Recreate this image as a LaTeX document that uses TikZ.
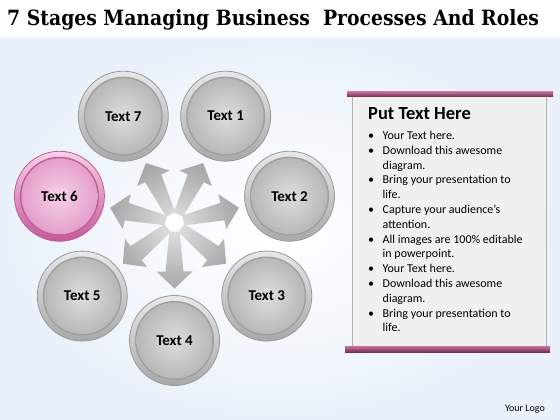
\documentclass[tikz,border=0pt]{standalone}
\usepackage{fontspec}
\setmainfont{Carlito}
\newfontfamily\titlefont{DejaVu Serif}
\usetikzlibrary{calc}

\definecolor{bgblue}{RGB}{234,241,250}
\definecolor{barhi}{RGB}{196,116,158}
\definecolor{barlo}{RGB}{118,48,88}
\definecolor{panelbg}{RGB}{240,240,240}
\definecolor{pinklt}{RGB}{246,210,232}
\definecolor{pinkmd}{RGB}{228,158,202}
\definecolor{pinkdk}{RGB}{196,90,152}

\newcommand\lbul{\makebox[14.5pt][l]{\textbullet}}
\newcommand\lind{\hspace*{14.5pt}}

\tikzset{
  btn/.style={circle, minimum size=90pt, inner sep=0pt, line width=0.8pt,
    font=\bfseries\fontsize{15}{17}\selectfont},
  btn gray/.style={btn, draw=gray!80, top color=gray!18, bottom color=gray!68,
    path picture={
      \fill[gray!75] (path picture bounding box.center) circle (39.5pt);
      \shade[inner color=gray!26, outer color=gray!56] (path picture bounding box.center) circle (38pt);}},
  btn pink/.style={btn, draw=pinkdk, top color=pinklt, bottom color=pinkdk,
    path picture={
      \fill[pinkdk] (path picture bounding box.center) circle (39.5pt);
      \shade[inner color=pinklt, outer color=pinkmd] (path picture bounding box.center) circle (38pt);}},
  bar/.style={top color=barhi, bottom color=barlo}
}

\begin{document}
\begin{tikzpicture}[x=1pt, y=-1pt]
  \useasboundingbox (0,0) rectangle (560,420);
  % background
  \fill[white] (0,0) rectangle (560,420);
  \shade[inner color=white, outer color=bgblue] (0,38) rectangle (560,420);

  \node[anchor=base west, inner sep=0pt, font=\titlefont\bfseries\fontsize{21}{24}\selectfont] (title) at (7,26)
    {\scalebox{0.895}[1]{7 Stages Managing Business\ \ Processes And Roles}};

  % arrows in the middle
  \coordinate (star) at (174.5,222.5);
  \shade[inner color=gray!22, outer color=gray!68]
    \foreach \k [evaluate=\k as \a using -64.3+(\k-1)*51.43] in {1,...,7} {
      ($(star)+(\a:9)+(\a+90:5)$) -- ($(star)+(\a:49)+(\a+90:9)$)
      -- ($(star)+(\a:49)+(\a+90:18)$) -- ($(star)+(\a:66)$)
      -- ($(star)+(\a:49)+(\a-90:18)$) -- ($(star)+(\a:49)+(\a-90:9)$)
      -- ($(star)+(\a:9)+(\a-90:5)$) -- cycle
    };
  \fill[white] (star) circle (8.5);

  % the seven buttons
  \foreach \k/\kind [evaluate=\k as \a using -64.3+(\k-1)*51.43]
      in {1/gray,2/gray,3/gray,4/gray,5/gray,6/pink,7/gray}
    \node[btn \kind] (t\k) at ($(star)+(\a:118)$) {Text \k};

  % text panel
  \fill[panelbg, draw=gray!60, line width=1pt] (352,95) rectangle (546,348);
  \shade[bar] (347,91.5) rectangle (553,96.5);
  \shade[bar] (345,346) rectangle (550,352);
  \node[anchor=base west, inner sep=0pt, font=\bfseries\fontsize{18.5}{20}\selectfont] (head) at (368,119) {Put Text Here};
  \node[anchor=north west, inner sep=0pt, align=left, font=\fontsize{12}{14.8}\selectfont] (list) at (368,131) {
    \lbul Your Text here.\\
    \lbul Download this awesome\\
    \lind diagram.\\
    \lbul Bring your presentation to\\
    \lind life.\\
    \lbul Capture your audience’s\\
    \lind attention.\\
    \lbul All images are 100\% editable\\
    \lind in powerpoint.\\
    \lbul Your Text here.\\
    \lbul Download this awesome\\
    \lind diagram.\\
    \lbul Bring your presentation to\\
    \lind life.};

  \node[anchor=base east, inner sep=0pt, font=\fontsize{10}{12}\selectfont] (logo) at (545,411) {Your Logo};
\end{tikzpicture}
\end{document}
